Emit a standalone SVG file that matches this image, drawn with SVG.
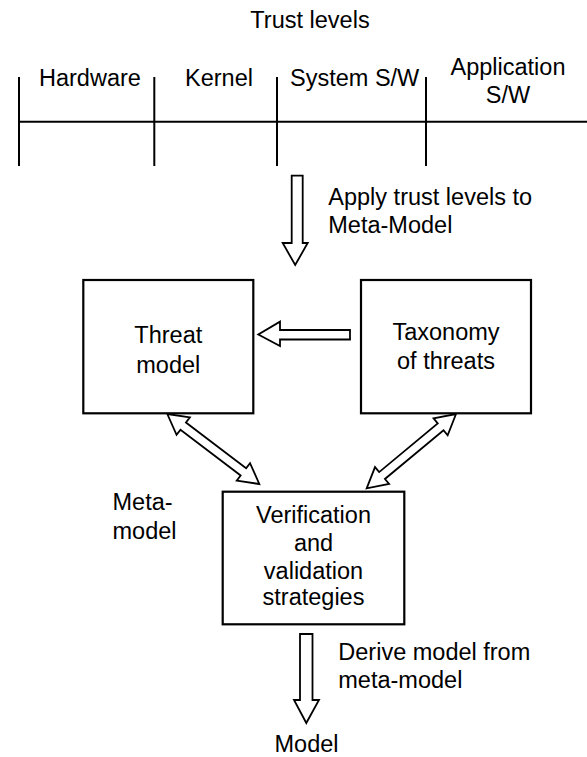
<svg xmlns="http://www.w3.org/2000/svg" width="587" height="757" viewBox="0 0 587 757">
  <style>
    text { font-family: "Liberation Sans", Arial, sans-serif; font-size: 23.5px; fill: #000; }
    .mid { text-anchor: middle; }
    .line { stroke: #000; stroke-width: 2; fill: none; }
    .box { stroke: #000; stroke-width: 2.2; fill: #fff; }
    .arrow { stroke: #000; stroke-width: 1.8; fill: #fff; stroke-linejoin: miter; }
  </style>
  <rect width="587" height="757" fill="#fff"/>

  <!-- Trust level scale -->
  <g id="trust-levels">
    <text class="mid" x="310" y="28">Trust levels</text>
    <line class="line" x1="19" y1="121.7" x2="587" y2="121.7"/>
    <line class="line" x1="19" y1="77" x2="19" y2="166"/>
    <line class="line" x1="154.3" y1="77" x2="154.3" y2="166"/>
    <line class="line" x1="277" y1="77" x2="277" y2="166"/>
    <line class="line" x1="426" y1="77" x2="426" y2="166"/>
    <text x="39" y="86">Hardware</text>
    <text x="185" y="86">Kernel</text>
    <text x="290" y="86">System S/W</text>
    <text class="mid" x="508" y="75">Application</text>
    <text class="mid" x="508" y="102.5">S/W</text>
  </g>

  <!-- Nodes -->
  <g id="threat-model">
    <rect class="box" x="83.3" y="280" width="170" height="133.3"/>
    <text class="mid" x="168.3" y="343.3">Threat</text>
    <text class="mid" x="168.3" y="372.7">model</text>
  </g>

  <g id="taxonomy">
    <rect class="box" x="361" y="280" width="170" height="133.3"/>
    <text class="mid" x="446" y="340">Taxonomy</text>
    <text class="mid" x="446" y="369">of threats</text>
  </g>

  <g id="verification">
    <rect class="box" x="222.7" y="491.7" width="181.6" height="132.6"/>
    <text class="mid" x="313.5" y="522.7">Verification</text>
    <text class="mid" x="313.5" y="550.7">and</text>
    <text class="mid" x="313.5" y="579">validation</text>
    <text class="mid" x="313.5" y="605">strategies</text>
  </g>

  <g id="meta-model-label">
    <text x="112.5" y="510">Meta-</text>
    <text x="112.5" y="539.3">model</text>
  </g>

  <g id="model">
    <text class="mid" x="306.5" y="752">Model</text>
  </g>

  <!-- Connectors (hollow block arrows) -->
  <g id="connectors">
    <!-- trust levels applied to the meta-model -->
    <polygon class="arrow" points="291.7,175.7 302.7,175.7 302.7,243 307.7,243 295.2,265 282.7,243 291.7,243"/>
    <text x="328.3" y="205">Apply trust levels to</text>
    <text x="328.3" y="232.5">Meta-Model</text>

    <!-- taxonomy feeds threat model -->
    <polygon class="arrow" points="350,330 350,339.5 280,339.5 280,346 258.3,334.5 280,321.7 280,330"/>

    <!-- threat model <-> verification -->
    <polygon class="arrow" transform="translate(167.3,414) rotate(37.27)"
             points="0,0 20,-11 20,-4.5 95.6,-4.5 95.6,-11 115.6,0 95.6,11 95.6,4.5 20,4.5 20,11"/>

    <!-- taxonomy <-> verification -->
    <polygon class="arrow" transform="translate(456,414) rotate(140.24)"
             points="0,0 20,-11 20,-4.5 96.2,-4.5 96.2,-11 116.2,0 96.2,11 96.2,4.5 20,4.5 20,11"/>

    <!-- model derived from meta-model -->
    <polygon class="arrow" points="300,634 312.5,634 312.5,700 319,700 306.3,723 294,700 300,700"/>
    <text x="338.3" y="660">Derive model from</text>
    <text x="338.3" y="688">meta-model</text>
  </g>
</svg>
